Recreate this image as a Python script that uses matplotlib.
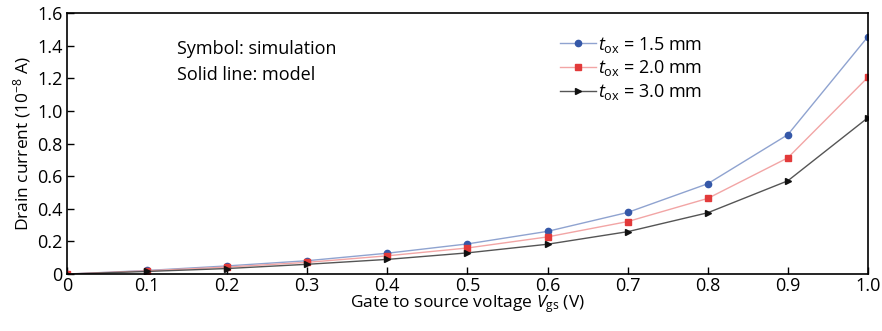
import numpy as np
import matplotlib
matplotlib.use('Agg')
import matplotlib.pyplot as plt

# gate-source voltage (V)
vgs = [0, 0.1, 0.2, 0.3, 0.4, 0.5, 0.6, 0.7, 0.8, 0.9, 1.0]

# drain current (1e-8 A)
id_15 = [0, 0.022, 0.05, 0.082, 0.128, 0.185, 0.262, 0.378, 0.554, 0.855, 1.456]
id_20 = [0, 0.02, 0.043, 0.072, 0.112, 0.16, 0.228, 0.322, 0.464, 0.713, 1.207]
id_30 = [0, 0.016, 0.034, 0.06, 0.09, 0.13, 0.183, 0.26, 0.376, 0.572, 0.959]

labels = ['$t_{\\mathrm{ox}}$ = 1.5 mm', '$t_{\\mathrm{ox}}$ = 2.0 mm', '$t_{\\mathrm{ox}}$ = 3.0 mm']

plt.rcParams['font.family'] = ['Open Sans', 'DejaVu Sans']
plt.rcParams['mathtext.fontset'] = 'custom'
plt.rcParams['mathtext.rm'] = 'Open Sans'
plt.rcParams['mathtext.it'] = 'Open Sans:italic'

fig, ax = plt.subplots(figsize=(8.82, 3.31), dpi=100)
fig.subplots_adjust(left=0.076, right=0.984, top=0.96, bottom=0.172)

ax.plot(vgs, id_15, color='#8fa3d0', lw=1, marker='o', ms=4.5,
        mfc='#3558a8', mec='#3558a8', label=labels[0])
ax.plot(vgs, id_20, color='#f2a5a5', lw=1, marker='s', ms=4.5,
        mfc='#e23a3a', mec='#e23a3a', label=labels[1])
ax.plot(vgs, id_30, color='#555555', lw=1, marker='>', ms=5,
        mfc='#111111', mec='#111111', label=labels[2])

ax.set_xlim(0, 1.0)
ax.set_ylim(0, 1.6)
ax.set_xticks(np.arange(0, 1.01, 0.1))
ax.set_xticklabels(['0', '0.1', '0.2', '0.3', '0.4', '0.5', '0.6', '0.7', '0.8', '0.9', '1.0'])
ax.set_yticks(np.arange(0, 1.61, 0.2))
ax.set_yticklabels(['0', '0.2', '0.4', '0.6', '0.8', '1.0', '1.2', '1.4', '1.6'])
ax.tick_params(direction='in', labelsize=13, length=5, width=1, pad=3)
ax.tick_params(axis='x', pad=2)
for s in ax.spines.values():
    s.set_linewidth(1.2)

ax.set_xlabel('Gate to source voltage $V_{\\mathrm{gs}}$ (V)', fontsize=12.5, labelpad=-1)
ax.set_ylabel('Drain current (10$^{-8}$ A)', fontsize=12.5, labelpad=3)

ax.text(0.137, 0.845, 'Symbol: simulation', transform=ax.transAxes, fontsize=13)
ax.text(0.137, 0.745, 'Solid line: model', transform=ax.transAxes, fontsize=13)

ax.legend(loc='upper left', bbox_to_anchor=(0.607, 0.945), frameon=False, fontsize=13,
          handlelength=2.0, handletextpad=0.1, labelspacing=0.2, borderaxespad=0)

fig.savefig('out.png', dpi=100)
